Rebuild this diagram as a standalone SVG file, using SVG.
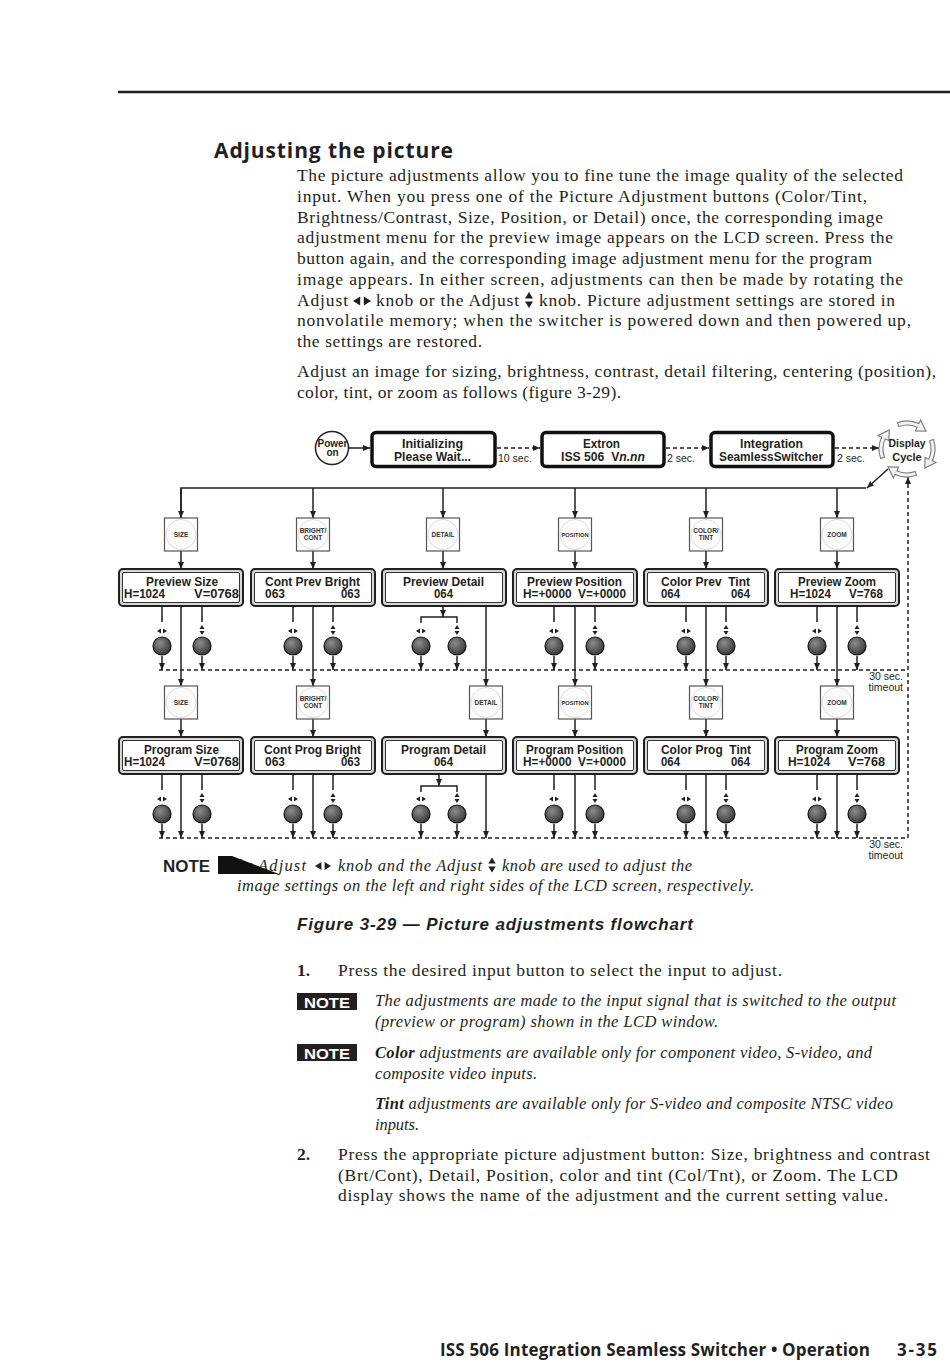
<svg xmlns="http://www.w3.org/2000/svg" width="950" height="1366" viewBox="0 0 950 1366">
<style>
text{fill:#231f20}
.b{font-family:"Liberation Serif",serif;font-size:17.5px}
.bb{font-family:"Liberation Serif",serif;font-size:17.5px;font-weight:700}
.i{font-family:"Liberation Serif",serif;font-size:16.5px;font-style:italic}
.h{font-family:"Open Sans","Liberation Sans",sans-serif;font-weight:700}
.l{font-family:"Liberation Sans",Arial,sans-serif;font-weight:700;font-size:12.8px}
.m{text-anchor:middle}
.e{text-anchor:end}
.p{white-space:pre}
.k{font-family:"Liberation Sans",Arial,sans-serif;font-weight:700;font-size:6.5px;text-anchor:middle;fill:#333}
.s{font-family:"Liberation Sans",Arial,sans-serif;font-size:10.5px}
.ln{stroke:#231f20;stroke-width:1.5;fill:none}
.ar{marker-end:url(#ah)}
.d{stroke:#231f20;stroke-width:1.5;fill:none;stroke-dasharray:4 3}
.lo{fill:#d6d6d6;stroke:#231f20;stroke-width:2}
.li{fill:#fff;stroke:#333;stroke-width:1}
.sq{fill:#fff;stroke:#555;stroke-width:1.2}
.sc{fill:#fbfbfb;stroke:#dedede;stroke-width:1}
.kn{fill:url(#kg);stroke:#111;stroke-width:1.2}
.tb{fill:#fff;stroke:#111;stroke-width:3.5}
.ca{fill:#f2f2f2;stroke:#7a7a7a;stroke-width:1.1}
.sym{fill:#231f20}
.nb{font-family:"Liberation Sans",Arial,sans-serif;font-weight:700;font-size:15px;text-anchor:middle}
</style>
<defs>
<marker id="ah" viewBox="0 0 7 6" refX="7" refY="3" markerWidth="7" markerHeight="6" markerUnits="userSpaceOnUse" orient="auto"><path d="M0,0 L7,3 L0,6 Z" fill="#231f20"/></marker>
<radialGradient id="kg" cx="40%" cy="35%" r="65%"><stop offset="0" stop-color="#8c8c8c"/><stop offset="1" stop-color="#3a3a3a"/></radialGradient>
<g id="lr" class="sym"><path d="M-1,-2.5 L-5,0 L-1,2.5 Z M1,-2.5 L5,0 L1,2.5 Z"/></g>
<g id="ud" class="sym"><path d="M-2.5,-1 L0,-5 L2.5,-1 Z M-2.5,1 L0,5 L2.5,1 Z"/></g>
<path id="carc" class="ca" d="M-9.58,-26.31 A28,28 0 0 1 11.83,-25.38 L13.52,-29 L19.02,-17.73 L8.45,-18.13 L10.14,-21.75 A24,24 0 0 0 -8.21,-22.55 Z"/>
</defs>
<rect width="950" height="1366" fill="#fff"/>
<line x1="118" y1="92" x2="950" y2="92" stroke="#231f20" stroke-width="2.5"/>

<g id="page-text">
<text class="h" x="214" y="158" font-size="21" textLength="239">Adjusting the picture</text>
<text class="b" x="297" y="181" textLength="606">The picture adjustments allow you to fine tune the image quality of the selected</text>
<text class="b" x="297" y="202" textLength="570">input. When you press one of the Picture Adjustment buttons (Color/Tint,</text>
<text class="b" x="297" y="223" textLength="586">Brightness/Contrast, Size, Position, or Detail) once, the corresponding image</text>
<text class="b" x="297" y="243" textLength="596">adjustment menu for the preview image appears on the LCD screen. Press the</text>
<text class="b" x="297" y="264" textLength="575">button again, and the corresponding image adjustment menu for the program</text>
<text class="b" x="297" y="285" textLength="606">image appears. In either screen, adjustments can then be made by rotating the</text>
<text class="b" x="297" y="306" textLength="51">Adjust</text>
<use href="#lr" transform="translate(362,301) scale(1.8)"/>
<text class="b" x="376" y="306" textLength="143">knob or the Adjust</text>
<use href="#ud" transform="translate(529,300) scale(1.6)"/>
<text class="b" x="539" y="306" textLength="356">knob. Picture adjustment settings are stored in</text>
<text class="b" x="297" y="326" textLength="614">nonvolatile memory; when the switcher is powered down and then powered up,</text>
<text class="b" x="297" y="347" textLength="185">the settings are restored.</text>
<text class="b" x="297" y="377" textLength="639">Adjust an image for sizing, brightness, contrast, detail filtering, centering (position),</text>
<text class="b" x="297" y="398" textLength="324">color, tint, or zoom as follows (figure 3-29).</text>
</g>

<g id="connectors">
<line class="ln ar" x1="349" y1="448" x2="370" y2="448"/>
<line class="d ar" x1="497" y1="448" x2="540" y2="448"/>
<line class="d ar" x1="666" y1="448" x2="709" y2="448"/>
<line class="d ar" x1="835" y1="448" x2="879" y2="448"/>
<text class="s" x="498" y="461.5">10 sec.</text>
<text class="s" x="667" y="461.5">2 sec.</text>
<text class="s" x="837" y="461.5">2 sec.</text>
<polyline class="ln" points="181,518 181,488 866,488"/>
<line class="ln ar" x1="888" y1="469" x2="867" y2="488"/>
<line class="ln ar" x1="181" y1="488" x2="181" y2="518"/>
<line class="ln ar" x1="313" y1="488" x2="313" y2="518"/>
<line class="ln ar" x1="443" y1="488" x2="443" y2="518"/>
<line class="ln ar" x1="575" y1="488" x2="575" y2="518"/>
<line class="ln ar" x1="706" y1="488" x2="706" y2="518"/>
<line class="ln ar" x1="837" y1="488" x2="837" y2="518"/>
<line class="ln ar" x1="181" y1="551" x2="181" y2="569"/>
<line class="ln ar" x1="313" y1="551" x2="313" y2="569"/>
<line class="ln ar" x1="443" y1="551" x2="443" y2="569"/>
<line class="ln ar" x1="575" y1="551" x2="575" y2="569"/>
<line class="ln ar" x1="706" y1="551" x2="706" y2="569"/>
<line class="ln ar" x1="837" y1="551" x2="837" y2="569"/>
<path class="ln" d="M162,606 V622 M202,606 V622 M293,606 V622 M333,606 V622 M554,606 V622 M595,606 V622 M686,606 V622 M726,606 V622 M817,606 V622 M857,606 V622"/>
<line class="ln ar" x1="443" y1="606" x2="443" y2="617"/>
<path class="ln" d="M421,623 V617 H457 V623"/>
<path class="ln ar" d="M162,656 V670"/><path class="ln ar" d="M202,656 V670"/>
<path class="ln ar" d="M293,656 V670"/><path class="ln ar" d="M333,656 V670"/>
<path class="ln ar" d="M421,656 V670"/><path class="ln ar" d="M457,656 V670"/>
<path class="ln ar" d="M554,656 V670"/><path class="ln ar" d="M595,656 V670"/>
<path class="ln ar" d="M686,656 V670"/><path class="ln ar" d="M726,656 V670"/>
<path class="ln ar" d="M817,656 V670"/><path class="ln ar" d="M857,656 V670"/>
<line class="d" x1="159" y1="670" x2="908" y2="670"/>
<line class="ln ar" x1="181" y1="606" x2="181" y2="686"/>
<line class="ln ar" x1="313" y1="606" x2="313" y2="686"/>
<line class="ln ar" x1="486" y1="606" x2="486" y2="686"/>
<line class="ln ar" x1="575" y1="606" x2="575" y2="686"/>
<line class="ln ar" x1="706" y1="606" x2="706" y2="686"/>
<line class="ln ar" x1="837" y1="606" x2="837" y2="686"/>
<line class="ln ar" x1="181" y1="719" x2="181" y2="737"/>
<line class="ln ar" x1="313" y1="719" x2="313" y2="737"/>
<line class="ln ar" x1="486" y1="719" x2="486" y2="737"/>
<line class="ln ar" x1="575" y1="719" x2="575" y2="737"/>
<line class="ln ar" x1="706" y1="719" x2="706" y2="737"/>
<line class="ln ar" x1="837" y1="719" x2="837" y2="737"/>
<path class="ln" d="M162,774 V790 M202,774 V790 M293,774 V790 M333,774 V790 M554,774 V790 M595,774 V790 M686,774 V790 M726,774 V790 M817,774 V790 M857,774 V790"/>
<line class="ln ar" x1="439" y1="774" x2="439" y2="786"/>
<path class="ln" d="M421,792 V786 H457 V792"/>
<path class="ln ar" d="M162,824 V838"/><path class="ln ar" d="M202,824 V838"/>
<path class="ln ar" d="M293,824 V838"/><path class="ln ar" d="M333,824 V838"/>
<path class="ln ar" d="M421,824 V838"/><path class="ln ar" d="M457,824 V838"/>
<path class="ln ar" d="M554,824 V838"/><path class="ln ar" d="M595,824 V838"/>
<path class="ln ar" d="M686,824 V838"/><path class="ln ar" d="M726,824 V838"/>
<path class="ln ar" d="M817,824 V838"/><path class="ln ar" d="M857,824 V838"/>
<line class="ln ar" x1="181" y1="775" x2="181" y2="838"/>
<line class="ln ar" x1="313" y1="775" x2="313" y2="838"/>
<line class="ln ar" x1="486" y1="775" x2="486" y2="838"/>
<line class="ln ar" x1="575" y1="775" x2="575" y2="838"/>
<line class="ln ar" x1="706" y1="775" x2="706" y2="838"/>
<line class="ln ar" x1="837" y1="775" x2="837" y2="838"/>
<line class="d" x1="159" y1="838" x2="908" y2="838"/>
<line class="d ar" x1="908" y1="838" x2="908" y2="477"/>
<text class="s e" x="903" y="680">30 sec.</text>
<text class="s e" x="903" y="691">timeout</text>
<text class="s e" x="903" y="848">30 sec.</text>
<text class="s e" x="903" y="859">timeout</text>
</g>

<g id="power-on"><circle cx="332" cy="448" r="16.5" fill="#fff" stroke="#231f20" stroke-width="1.5"/>
<text class="l m" x="332.5" y="447" style="font-size:10px" textLength="30" lengthAdjust="spacingAndGlyphs">Power</text>
<text class="l m" x="332.5" y="455.5" style="font-size:10px">on</text></g>

<g id="lcd-init"><rect class="tb" x="372" y="432.5" width="123" height="34" rx="4"/>
<text class="l m" x="432.5" y="447.5" textLength="61" lengthAdjust="spacingAndGlyphs">Initializing</text>
<text class="l m" x="432.5" y="460.5" textLength="77" lengthAdjust="spacingAndGlyphs">Please Wait...</text></g>

<g id="lcd-extron"><rect class="tb" x="542" y="432.5" width="122" height="34" rx="4"/>
<text class="l m" x="601.5" y="447.5" textLength="37" lengthAdjust="spacingAndGlyphs">Extron</text>
<text class="l m p" x="603" y="460.5" textLength="84" lengthAdjust="spacingAndGlyphs">ISS 506  V<tspan font-style="italic">n.nn</tspan></text></g>

<g id="lcd-integration"><rect class="tb" x="711" y="432.5" width="122" height="34" rx="4"/>
<text class="l m" x="771.5" y="447.5" textLength="63" lengthAdjust="spacingAndGlyphs">Integration</text>
<text class="l m" x="771" y="460.5" textLength="104" lengthAdjust="spacingAndGlyphs">SeamlessSwitcher</text></g>

<g id="display-cycle">
<use href="#carc" transform="translate(907,449)"/>
<use href="#carc" transform="translate(907,449) rotate(90)"/>
<use href="#carc" transform="translate(907,449) rotate(180)"/>
<use href="#carc" transform="translate(907,449) rotate(270)"/>
<text class="l m" x="907" y="447" style="font-size:11px" textLength="37" lengthAdjust="spacingAndGlyphs">Display</text>
<text class="l m" x="907" y="460.5" style="font-size:11px">Cycle</text>
</g>

<g id="btn-size-1"><rect class="sq" x="164.5" y="518" width="33" height="33"/><circle class="sc" cx="181" cy="534.5" r="15"/><text class="k" x="181" y="537">SIZE</text></g>
<g id="btn-bright-1"><rect class="sq" x="296.5" y="518" width="33" height="33"/><circle class="sc" cx="313" cy="534.5" r="15"/><text class="k" x="313" y="532.5">BRIGHT/</text><text class="k" x="313" y="540">CONT</text></g>
<g id="btn-detail-1"><rect class="sq" x="426.5" y="518" width="33" height="33"/><circle class="sc" cx="443" cy="534.5" r="15"/><text class="k" x="443" y="537">DETAIL</text></g>
<g id="btn-position-1"><rect class="sq" x="558.5" y="518" width="33" height="33"/><circle class="sc" cx="575" cy="534.5" r="15"/><text class="k" x="575" y="537" style="font-size:5.5px" textLength="27" lengthAdjust="spacingAndGlyphs">POSITION</text></g>
<g id="btn-color-1"><rect class="sq" x="689.5" y="518" width="33" height="33"/><circle class="sc" cx="706" cy="534.5" r="15"/><text class="k" x="706" y="532.5">COLOR/</text><text class="k" x="706" y="540">TINT</text></g>
<g id="btn-zoom-1"><rect class="sq" x="820.5" y="518" width="33" height="33"/><circle class="sc" cx="837" cy="534.5" r="15"/><text class="k" x="837" y="537">ZOOM</text></g>

<g id="lcd-preview-size"><rect class="lo" x="119" y="569" width="124" height="37" rx="4"/><rect class="li" x="122.5" y="572.5" width="117" height="30" rx="1.5"/>
<text class="l m" x="182" y="585.5" textLength="72" lengthAdjust="spacingAndGlyphs">Preview Size</text>
<text class="l" x="124" y="597.5" textLength="41" lengthAdjust="spacingAndGlyphs">H=1024</text>
<text class="l e" x="239" y="597.5" textLength="45" lengthAdjust="spacingAndGlyphs">V=0768</text></g>
<g id="lcd-cont-prev-bright"><rect class="lo" x="251" y="569" width="124" height="37" rx="4"/><rect class="li" x="254.5" y="572.5" width="117" height="30" rx="1.5"/>
<text class="l m" x="312.5" y="585.5" textLength="95" lengthAdjust="spacingAndGlyphs">Cont Prev Bright</text>
<text class="l" x="265" y="597.5" textLength="20" lengthAdjust="spacingAndGlyphs">063</text>
<text class="l e" x="360" y="597.5" textLength="19" lengthAdjust="spacingAndGlyphs">063</text></g>
<g id="lcd-preview-detail"><rect class="lo" x="382" y="569" width="124" height="37" rx="4"/><rect class="li" x="385.5" y="572.5" width="117" height="30" rx="1.5"/>
<text class="l m" x="443.5" y="585.5" textLength="81" lengthAdjust="spacingAndGlyphs">Preview Detail</text>
<text class="l m" x="443.5" y="597.5" textLength="19" lengthAdjust="spacingAndGlyphs">064</text></g>
<g id="lcd-preview-position"><rect class="lo" x="513" y="569" width="124" height="37" rx="4"/><rect class="li" x="516.5" y="572.5" width="117" height="30" rx="1.5"/>
<text class="l m" x="574.5" y="585.5" textLength="95" lengthAdjust="spacingAndGlyphs">Preview Position</text>
<text class="l m p" x="574.5" y="597.5" textLength="103" lengthAdjust="spacingAndGlyphs">H=+0000  V=+0000</text></g>
<g id="lcd-color-prev-tint"><rect class="lo" x="644" y="569" width="124" height="37" rx="4"/><rect class="li" x="647.5" y="572.5" width="117" height="30" rx="1.5"/>
<text class="l m p" x="705.5" y="585.5" textLength="89" lengthAdjust="spacingAndGlyphs">Color Prev  Tint</text>
<text class="l" x="661" y="597.5" textLength="19" lengthAdjust="spacingAndGlyphs">064</text>
<text class="l e" x="750" y="597.5" textLength="19" lengthAdjust="spacingAndGlyphs">064</text></g>
<g id="lcd-preview-zoom"><rect class="lo" x="775" y="569" width="124" height="37" rx="4"/><rect class="li" x="778.5" y="572.5" width="117" height="30" rx="1.5"/>
<text class="l m" x="837" y="585.5" textLength="78" lengthAdjust="spacingAndGlyphs">Preview Zoom</text>
<text class="l" x="790" y="597.5" textLength="41" lengthAdjust="spacingAndGlyphs">H=1024</text>
<text class="l e" x="883" y="597.5" textLength="34" lengthAdjust="spacingAndGlyphs">V=768</text></g>

<g id="knobs-1">
<use href="#lr" x="162" y="631"/><use href="#ud" x="202" y="630"/>
<use href="#lr" x="293" y="631"/><use href="#ud" x="333" y="630"/>
<use href="#lr" x="421" y="631"/><use href="#ud" x="457" y="630"/>
<use href="#lr" x="554" y="631"/><use href="#ud" x="595" y="630"/>
<use href="#lr" x="686" y="631"/><use href="#ud" x="726" y="630"/>
<use href="#lr" x="817" y="631"/><use href="#ud" x="857" y="630"/>
<circle class="kn" cx="162" cy="646" r="9"/><circle class="kn" cx="202" cy="646" r="9"/>
<circle class="kn" cx="293" cy="646" r="9"/><circle class="kn" cx="333" cy="646" r="9"/>
<circle class="kn" cx="421" cy="646" r="9"/><circle class="kn" cx="457" cy="646" r="9"/>
<circle class="kn" cx="554" cy="646" r="9"/><circle class="kn" cx="595" cy="646" r="9"/>
<circle class="kn" cx="686" cy="646" r="9"/><circle class="kn" cx="726" cy="646" r="9"/>
<circle class="kn" cx="817" cy="646" r="9"/><circle class="kn" cx="857" cy="646" r="9"/>
</g>

<g id="btn-size-2"><rect class="sq" x="164.5" y="686" width="33" height="33"/><circle class="sc" cx="181" cy="702.5" r="15"/><text class="k" x="181" y="705">SIZE</text></g>
<g id="btn-bright-2"><rect class="sq" x="296.5" y="686" width="33" height="33"/><circle class="sc" cx="313" cy="702.5" r="15"/><text class="k" x="313" y="700.5">BRIGHT/</text><text class="k" x="313" y="708">CONT</text></g>
<g id="btn-detail-2"><rect class="sq" x="469.5" y="686" width="33" height="33"/><circle class="sc" cx="486" cy="702.5" r="15"/><text class="k" x="486" y="705">DETAIL</text></g>
<g id="btn-position-2"><rect class="sq" x="558.5" y="686" width="33" height="33"/><circle class="sc" cx="575" cy="702.5" r="15"/><text class="k" x="575" y="705" style="font-size:5.5px" textLength="27" lengthAdjust="spacingAndGlyphs">POSITION</text></g>
<g id="btn-color-2"><rect class="sq" x="689.5" y="686" width="33" height="33"/><circle class="sc" cx="706" cy="702.5" r="15"/><text class="k" x="706" y="700.5">COLOR/</text><text class="k" x="706" y="708">TINT</text></g>
<g id="btn-zoom-2"><rect class="sq" x="820.5" y="686" width="33" height="33"/><circle class="sc" cx="837" cy="702.5" r="15"/><text class="k" x="837" y="705">ZOOM</text></g>

<g id="lcd-program-size"><rect class="lo" x="119" y="737" width="124" height="37" rx="4"/><rect class="li" x="122.5" y="740.5" width="117" height="30" rx="1.5"/>
<text class="l m" x="181.5" y="753.5" textLength="75" lengthAdjust="spacingAndGlyphs">Program Size</text>
<text class="l" x="124" y="765.5" textLength="41" lengthAdjust="spacingAndGlyphs">H=1024</text>
<text class="l e" x="239" y="765.5" textLength="45" lengthAdjust="spacingAndGlyphs">V=0768</text></g>
<g id="lcd-cont-prog-bright"><rect class="lo" x="251" y="737" width="124" height="37" rx="4"/><rect class="li" x="254.5" y="740.5" width="117" height="30" rx="1.5"/>
<text class="l m" x="312.5" y="753.5" textLength="97" lengthAdjust="spacingAndGlyphs">Cont Prog Bright</text>
<text class="l" x="265" y="765.5" textLength="20" lengthAdjust="spacingAndGlyphs">063</text>
<text class="l e" x="360" y="765.5" textLength="19" lengthAdjust="spacingAndGlyphs">063</text></g>
<g id="lcd-program-detail"><rect class="lo" x="382" y="737" width="124" height="37" rx="4"/><rect class="li" x="385.5" y="740.5" width="117" height="30" rx="1.5"/>
<text class="l m" x="443.5" y="753.5" textLength="85" lengthAdjust="spacingAndGlyphs">Program Detail</text>
<text class="l m" x="443.5" y="765.5" textLength="19" lengthAdjust="spacingAndGlyphs">064</text></g>
<g id="lcd-program-position"><rect class="lo" x="513" y="737" width="124" height="37" rx="4"/><rect class="li" x="516.5" y="740.5" width="117" height="30" rx="1.5"/>
<text class="l m" x="574.5" y="753.5" textLength="97" lengthAdjust="spacingAndGlyphs">Program Position</text>
<text class="l m p" x="574.5" y="765.5" textLength="103" lengthAdjust="spacingAndGlyphs">H=+0000  V=+0000</text></g>
<g id="lcd-color-prog-tint"><rect class="lo" x="644" y="737" width="124" height="37" rx="4"/><rect class="li" x="647.5" y="740.5" width="117" height="30" rx="1.5"/>
<text class="l m p" x="706" y="753.5" textLength="90" lengthAdjust="spacingAndGlyphs">Color Prog  Tint</text>
<text class="l" x="661" y="765.5" textLength="19" lengthAdjust="spacingAndGlyphs">064</text>
<text class="l e" x="750" y="765.5" textLength="19" lengthAdjust="spacingAndGlyphs">064</text></g>
<g id="lcd-program-zoom"><rect class="lo" x="775" y="737" width="124" height="37" rx="4"/><rect class="li" x="778.5" y="740.5" width="117" height="30" rx="1.5"/>
<text class="l m" x="837" y="753.5" textLength="82" lengthAdjust="spacingAndGlyphs">Program Zoom</text>
<text class="l" x="788" y="765.5" textLength="42" lengthAdjust="spacingAndGlyphs">H=1024</text>
<text class="l e" x="885" y="765.5" textLength="37" lengthAdjust="spacingAndGlyphs">V=768</text></g>

<g id="knobs-2">
<use href="#lr" x="162" y="799"/><use href="#ud" x="202" y="798"/>
<use href="#lr" x="293" y="799"/><use href="#ud" x="333" y="798"/>
<use href="#lr" x="421" y="799"/><use href="#ud" x="457" y="798"/>
<use href="#lr" x="554" y="799"/><use href="#ud" x="595" y="798"/>
<use href="#lr" x="686" y="799"/><use href="#ud" x="726" y="798"/>
<use href="#lr" x="817" y="799"/><use href="#ud" x="857" y="798"/>
<circle class="kn" cx="162" cy="814" r="9"/><circle class="kn" cx="202" cy="814" r="9"/>
<circle class="kn" cx="293" cy="814" r="9"/><circle class="kn" cx="333" cy="814" r="9"/>
<circle class="kn" cx="421" cy="814" r="9"/><circle class="kn" cx="457" cy="814" r="9"/>
<circle class="kn" cx="554" cy="814" r="9"/><circle class="kn" cx="595" cy="814" r="9"/>
<circle class="kn" cx="686" cy="814" r="9"/><circle class="kn" cx="726" cy="814" r="9"/>
<circle class="kn" cx="817" cy="814" r="9"/><circle class="kn" cx="857" cy="814" r="9"/>
</g>

<g id="flow-note">
<text class="nb" x="186.5" y="872" style="font-size:16px" textLength="47" lengthAdjust="spacingAndGlyphs">NOTE</text>
<text class="i" x="229" y="871" textLength="24">The</text>
<text class="i" x="258" y="871" textLength="48">Adjust</text>
<use href="#lr" transform="translate(323,866) scale(1.6)"/>
<text class="i" x="338" y="871" textLength="144">knob and the Adjust</text>
<use href="#ud" transform="translate(492,865) scale(1.5)"/>
<text class="i" x="502" y="871" textLength="190">knob are used to adjust the</text>
<text class="i" x="237" y="891" textLength="517">image settings on the left and right sides of the LCD screen, respectively.</text>
<polygon points="218,856 232,856 279,874 218,874" fill="#111"/>
</g>

<g id="caption-and-steps">
<text x="297" y="930" font-family="Liberation Sans, Arial, sans-serif" font-size="17" font-weight="700" font-style="italic" textLength="396">Figure 3-29 — Picture adjustments flowchart</text>
<text class="bb" x="297" y="976">1.</text>
<text class="b" x="338" y="976" textLength="444">Press the desired input button to select the input to adjust.</text>
<rect x="297" y="993" width="60" height="17" fill="#231f20"/>
<text class="nb" x="327" y="1007.5" style="fill:#fff" textLength="46" lengthAdjust="spacingAndGlyphs">NOTE</text>
<text class="i" x="375" y="1006" textLength="521">The adjustments are made to the input signal that is switched to the output</text>
<text class="i" x="375" y="1027" textLength="343">(preview or program) shown in the LCD window.</text>
<rect x="297" y="1044" width="60" height="17" fill="#231f20"/>
<text class="nb" x="327" y="1058.5" style="fill:#fff" textLength="46" lengthAdjust="spacingAndGlyphs">NOTE</text>
<text class="i" x="375" y="1058" textLength="497"><tspan font-weight="700">Color</tspan> adjustments are available only for component video, S-video, and</text>
<text class="i" x="375" y="1079" textLength="162">composite video inputs.</text>
<text class="i" x="375" y="1109" textLength="518"><tspan font-weight="700">Tint</tspan> adjustments are available only for S-video and composite NTSC video</text>
<text class="i" x="375" y="1130" textLength="44">inputs.</text>
<text class="bb" x="297" y="1160">2.</text>
<text class="b" x="338" y="1160" textLength="592">Press the appropriate picture adjustment button: Size, brightness and contrast</text>
<text class="b" x="338" y="1181" textLength="560">(Brt/Cont), Detail, Position, color and tint (Col/Tnt), or Zoom. The LCD</text>
<text class="b" x="338" y="1201" textLength="550">display shows the name of the adjustment and the current setting value.</text>
</g>

<g id="footer">
<text class="h" x="440" y="1356" font-size="17" textLength="430">ISS 506 Integration Seamless Switcher • Operation</text>
<text class="h" x="897" y="1356" font-size="17" textLength="40">3-35</text>
</g>
</svg>
